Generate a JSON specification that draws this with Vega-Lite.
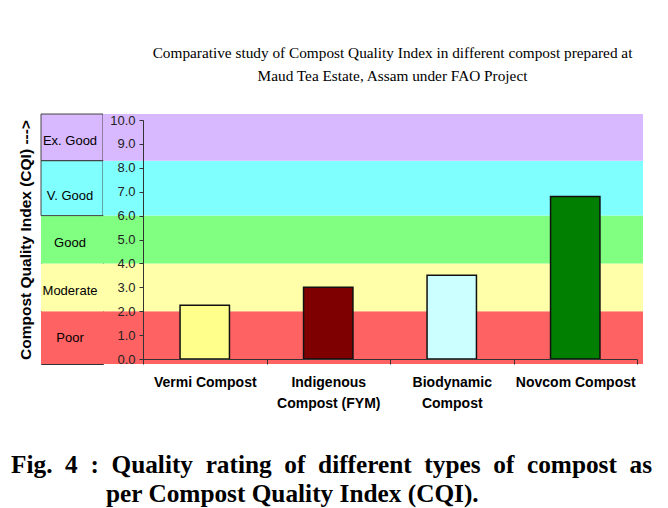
{
  "$schema": "https://vega.github.io/schema/vega-lite/v6.json",
  "autosize": {"type": "pad"},
  "padding": {"left": 10, "top": 45, "right": 0, "bottom": 4},
  "background": "white",
  "bounds": "flush",
  "spacing": 0,
  "config": {"font": "Liberation Sans", "view": {"stroke": null}, "axis": {"labelOverlap": false, "labelSeparation": 0}, "axisY": {"labelOverlap": false}},
  "title": {
    "text": ["Comparative study of Compost Quality Index in different compost prepared at", "Maud Tea Estate, Assam under FAO Project"],
    "anchor": "middle",
    "dx": 61,
    "offset": 29,
    "font": "Liberation Serif",
    "fontSize": 15.3,
    "fontWeight": "normal",
    "color": "black",
    "lineHeight": 23
  },
  "datasets": {
    "bands": [
      {"band": "Poor", "lo": -0.21, "hi": 2, "mid": 0.88},
      {"band": "Moderate", "lo": 2, "hi": 4, "mid": 2.86},
      {"band": "Good", "lo": 4, "hi": 6, "mid": 4.85},
      {"band": "V. Good", "lo": 6, "hi": 8.3, "mid": 6.83},
      {"band": "Ex. Good", "lo": 8.3, "hi": 10.25, "mid": 9.14}
    ],
    "compost": [
      {"compost": "Vermi Compost", "cqi": 2.25},
      {"compost": "Indigenous Compost (FYM)", "cqi": 3.0},
      {"compost": "Biodynamic Compost", "cqi": 3.5},
      {"compost": "Novcom Compost", "cqi": 6.8}
    ]
  },
  "hconcat": [
    {
      "width": 62,
      "height": 250,
      "view": {"stroke": "#333", "strokeWidth": 1},
      "data": {"name": "bands"},
      "title": {
        "text": "Fig.\u20024\u2002:\u2002Quality\u2002rating\u2002of\u2002different\u2002types\u2002of\u2002compost\u2002as",
        "orient": "bottom",
        "anchor": "start",
        "frame": "group",
        "dx": -30,
        "offset": 89,
        "font": "Liberation Serif",
        "fontSize": 25.3,
        "fontWeight": "bold",
        "color": "black"
      },
      "layer": [
        {
          "mark": {"type": "rect"},
          "encoding": {
            "y": {"field": "lo", "type": "quantitative",
              "scale": {"domain": [0, 10], "range": [245, 6], "nice": false, "zero": false},
              "axis": {"title": "Compost Quality Index (CQI) --->", "labels": false, "ticks": false, "domain": false, "grid": false,
                "titleFont": "Liberation Sans", "titleFontSize": 15.5, "titleFontWeight": "bold", "titleColor": "black", "titlePadding": 8, "zindex": 1}},
            "y2": {"field": "hi"},
            "color": {"field": "band", "type": "nominal",
              "scale": {"domain": ["Poor", "Moderate", "Good", "V. Good", "Ex. Good"], "range": ["#FF6262", "#FFFFAA", "#80FF80", "#80FFFF", "#D8B8FF"]},
              "legend": null}
          }
        },
        {
          "transform": [{"filter": "datum.band === 'Ex. Good' || datum.band === 'V. Good'"}],
          "mark": {"type": "rect", "fill": null, "stroke": "#444", "strokeWidth": 1},
          "encoding": {
            "y": {"field": "lo", "type": "quantitative"},
            "y2": {"field": "hi"}
          }
        },
        {
          "mark": {"type": "text", "fontSize": 13, "color": "black", "font": "Liberation Sans", "dx": -2},
          "encoding": {
            "y": {"field": "mid", "type": "quantitative"},
            "text": {"field": "band", "type": "nominal"}
          }
        }
      ]
    },
    {
      "width": 540,
      "height": 250,
      "title": {
        "text": "per Compost Quality Index (CQI).",
        "orient": "bottom",
        "anchor": "start",
        "frame": "group",
        "dx": 3,
        "offset": 72,
        "font": "Liberation Serif",
        "fontSize": 25.3,
        "fontWeight": "bold",
        "color": "black"
      },
      "layer": [
        {
          "data": {"name": "bands"},
          "mark": {"type": "rect"},
          "encoding": {
            "y": {"field": "lo", "type": "quantitative",
              "scale": {"domain": [0, 10], "range": [245, 6], "nice": false, "zero": false},
              "axis": {"title": null, "orient": "left", "offset": -40, "values": [0, 1, 2, 3, 4, 5, 6, 7, 8, 9, 10], "format": ".1f",
                "labelFont": "Liberation Sans", "labelFontSize": 13, "labelColor": "#222", "tickSize": 4, "tickColor": "#333",
                "domainColor": "#333", "labelPadding": 4, "grid": false, "zindex": 1, "labelOverlap": false}},
            "y2": {"field": "hi"},
            "color": {"field": "band", "type": "nominal",
              "scale": {"domain": ["Poor", "Moderate", "Good", "V. Good", "Ex. Good"], "range": ["#FF6262", "#FFFFAA", "#80FF80", "#80FFFF", "#D8B8FF"]},
              "legend": null}
          }
        },
        {
          "data": {"name": "compost"},
          "mark": {"type": "bar", "stroke": "#111", "strokeWidth": 1.5, "width": {"band": 0.4}},
          "encoding": {
            "x": {"field": "compost", "type": "nominal", "sort": null,
              "scale": {"range": [40, 534], "paddingInner": 0, "paddingOuter": 0},
              "axis": {"title": null, "orient": "bottom", "offset": -5, "labelAngle": 0, "labelFont": "Liberation Sans",
                "labelFontSize": 14, "labelFontWeight": "bold", "labelColor": "black", "tickBand": "extent", "tickSize": 5,
                "tickColor": "#333", "domainColor": "#333", "labelPadding": 11, "labelLineHeight": 21, "labelLimit": 0, "zindex": 1,
                "labelExpr": "datum.value == 'Indigenous Compost (FYM)' ? ['Indigenous', 'Compost (FYM)'] : datum.value == 'Biodynamic Compost' ? ['Biodynamic', 'Compost'] : datum.value"}},
            "y": {"field": "cqi", "type": "quantitative", "axis": {"title": null, "zindex": 1, "labelOverlap": false, "values": [0, 1, 2, 3, 4, 5, 6, 7, 8, 9, 10], "format": ".1f"}},
            "fill": {"field": "compost", "type": "nominal",
              "scale": {"domain": ["Vermi Compost", "Indigenous Compost (FYM)", "Biodynamic Compost", "Novcom Compost"], "range": ["#FFFF8C", "#7F0000", "#CCFFFF", "#007F00"]},
              "legend": null}
          }
        }
      ]
    }
  ]
}
